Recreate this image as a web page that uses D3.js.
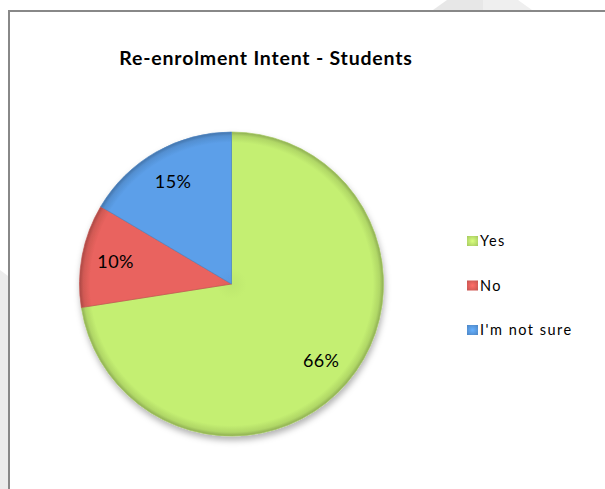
<!DOCTYPE html>
<html>
<head>
<meta charset="utf-8">
<script src="https://cdn.jsdelivr.net/npm/d3@7"></script>
<style>
  body { margin: 0; background: #ffffff; }
  text { font-family: Lato, "Open Sans", sans-serif; }
</style>
</head>
<body>
<div id="chart"></div>
<script>
const categories = ['Yes', 'No', "I'm not sure"];
const values = [66, 10, 15];
const labels = ['66%', '10%', '15%'];
const colors = ['#c4ef72', '#e9635e', '#5c9fe9'];

const width = 605;
const height = 489;

const svg = d3.select('#chart')
    .append('svg')
    .attr('width', width)
    .attr('height', height);

const defs = svg.append('defs');

// faint background shapes behind the chart frame
svg.append('polygon')
    .attr('points', '0,270 8,276 8,489 0,489')
    .attr('fill', '#ececec');
svg.append('polygon')
    .attr('points', '447,0 483,0 483,10 433,10')
    .attr('fill', '#e7e7e7');
svg.append('polygon')
    .attr('points', '483,0 518,0 532,10 483,10')
    .attr('fill', '#efefef');

// chart frame
svg.append('rect')
    .attr('x', 9)
    .attr('y', 11)
    .attr('width', 620)
    .attr('height', 500)
    .attr('fill', '#fff')
    .attr('stroke', '#888')
    .attr('stroke-width', 2);

svg.append('text')
    .attr('x', 266)
    .attr('y', 65)
    .attr('text-anchor', 'middle')
    .attr('font-size', 19.5)
    .attr('font-weight', 'bold')
    .attr('letter-spacing', 0.8)
    .attr('fill', '#000')
    .text('Re-enrolment Intent - Students');

const cx = 231.5, cy = 284, radius = 152;

// shadow
const shadow = defs.append('filter')
    .attr('id', 'shadow')
    .attr('x', '-20%').attr('y', '-20%')
    .attr('width', '140%').attr('height', '140%');
shadow.append('feDropShadow')
    .attr('dx', 1).attr('dy', 4)
    .attr('stdDeviation', 3)
    .attr('flood-color', '#000')
    .attr('flood-opacity', 0.3);

// bevel-ish gradients per slice (centred on the pie, local coords)
colors.forEach((c, i) => {
    const g = defs.append('radialGradient')
        .attr('id', 'grad' + i)
        .attr('gradientUnits', 'userSpaceOnUse')
        .attr('cx', 0).attr('cy', 0).attr('r', radius);
    g.append('stop').attr('offset', '0%').attr('stop-color', d3.color(c).darker(0.1));
    g.append('stop').attr('offset', '10%').attr('stop-color', c);
    g.append('stop').attr('offset', '93%').attr('stop-color', c);
    g.append('stop').attr('offset', '97.5%').attr('stop-color', d3.color(c).darker(0.3));
    g.append('stop').attr('offset', '100%').attr('stop-color', d3.color(c).darker(0.9));
});

const pie = d3.pie().sort(null).value(d => d);
const arcs = pie(values);

const arc = d3.arc().innerRadius(0).outerRadius(radius);
const labelArc = d3.arc().innerRadius(118).outerRadius(118);

const g = svg.append('g')
    .attr('transform', `translate(${cx}, ${cy})`);

g.append('g')
    .attr('filter', 'url(#shadow)')
    .selectAll('path')
    .data(arcs)
    .enter()
    .append('path')
    .attr('d', arc)
    .attr('fill', (d, i) => `url(#grad${i})`)
    .attr('stroke', (d, i) => d3.color(colors[i]).darker(0.5))
    .attr('stroke-width', 0.7);

g.selectAll('.label')
    .data(arcs)
    .enter()
    .append('text')
    .attr('class', 'label')
    .attr('transform', d => `translate(${labelArc.centroid(d)})`)
    .attr('text-anchor', 'middle')
    .attr('dy', '0.35em')
    .attr('font-size', 18)
    .attr('letter-spacing', 0.4)
    .attr('fill', '#000')
    .text((d, i) => labels[i]);

// legend
const legend = svg.append('g')
    .attr('transform', 'translate(467, 241)');

const rows = legend.selectAll('g')
    .data(categories)
    .enter()
    .append('g')
    .attr('transform', (d, i) => `translate(0, ${i * 44.5})`);

colors.forEach((c, i) => {
    const lg = defs.append('radialGradient')
        .attr('id', 'lgrad' + i)
        .attr('cx', '50%').attr('cy', '50%').attr('r', '70%');
    lg.append('stop').attr('offset', '0%').attr('stop-color', d3.color(c).brighter(0.3));
    lg.append('stop').attr('offset', '100%').attr('stop-color', d3.color(c).darker(0.5));
});

rows.append('rect')
    .attr('x', 0)
    .attr('y', -5)
    .attr('width', 11)
    .attr('height', 10)
    .attr('fill', (d, i) => `url(#lgrad${i})`);

rows.append('text')
    .attr('x', 13)
    .attr('dy', '0.36em')
    .attr('font-size', 14.5)
    .attr('letter-spacing', 1.5)
    .attr('fill', '#000')
    .text(d => d);
</script>
</body>
</html>
